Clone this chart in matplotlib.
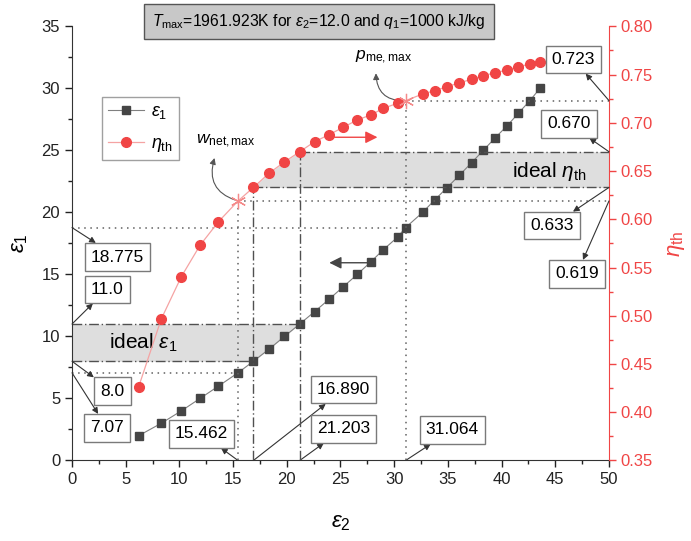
import matplotlib
matplotlib.use('Agg')
import matplotlib.pyplot as plt
from matplotlib.ticker import MultipleLocator

plt.rcParams['font.family'] = ['Liberation Sans', 'DejaVu Sans']
plt.rcParams['mathtext.fontset'] = 'custom'
plt.rcParams['mathtext.rm'] = 'Liberation Sans'
plt.rcParams['mathtext.it'] = 'Liberation Sans:italic'
plt.rcParams['mathtext.bf'] = 'Liberation Sans:bold'

red = '#f04545'
light_red = '#f5a3a3'
dark = '#454545'
shade = '#dedede'

# compression ratio sweep
eps1 = [2, 3, 4, 5, 6, 7.07, 8, 9, 10, 11, 12, 13, 14, 15, 16, 17, 18, 18.775,
        20, 21, 22, 23, 24, 25, 26, 27, 28, 29, 30]
eps2 = [6.21, 8.31, 10.18, 11.92, 13.64, 15.462, 16.890, 18.38, 19.78, 21.203,
        22.59, 23.94, 25.25, 26.56, 27.81, 29.00, 30.31, 31.064,
        32.65, 33.77, 34.93, 36.08, 37.20, 38.30, 39.39, 40.54, 41.57, 42.63, 43.57]
eta = [0.4265, 0.4966, 0.5405, 0.5730, 0.5975, 0.619, 0.633, 0.648, 0.6594, 0.670,
       0.6804, 0.6877, 0.6953, 0.7029, 0.7081, 0.7150, 0.7202, 0.723,
       0.7298, 0.7333, 0.7374, 0.7415, 0.7450, 0.7488, 0.7519, 0.7547, 0.7581, 0.7609, 0.7635]

i_wnet, i_pme = 5, 17      # w_net,max and p_me,max points
i_lo, i_hi = 6, 9          # ideal range limits

fig = plt.figure(figsize=(6.91, 5.41), dpi=100)
ax1 = fig.add_axes([0.1042, 0.1488, 0.7771, 0.8026])
ax2 = ax1.twinx()

ax1.set_xlim(0, 50)
ax1.set_ylim(0, 35)
ax2.set_ylim(0.35, 0.80)

# shaded ideal bands
ax1.fill_betweenx(eps1[i_lo:i_hi + 1], 0, eps2[i_lo:i_hi + 1], color=shade, lw=0, zorder=1)
xb = eps2[i_lo:i_hi + 1] + [50]
yb = eta[i_lo:i_hi + 1] + [eta[i_hi]]
ax1.fill_between(xb, eta[i_lo], yb, color=shade, lw=0, zorder=1, transform=ax2.transData)

dd = dict(color='#505050', lw=1.0, ls=(0, (7, 2, 1, 2)))
dt = dict(color='#606060', lw=1.1, ls=(0, (1, 3)))

# dash-dot guides for ideal ranges
for i in (i_lo, i_hi):
    ax1.hlines(eps1[i], 0, eps2[i], zorder=2, **dd)
    ax2.vlines(eps2[i], 0.35, eta[i], zorder=2, **dd)
    ax2.hlines(eta[i], eps2[i], 50, zorder=2, **dd)
# dotted guides for the maxima
for i in (i_wnet, i_pme):
    ax1.hlines(eps1[i], 0, eps2[i], zorder=2, **dt)
    ax2.vlines(eps2[i], 0.35, eta[i], zorder=2, **dt)
    ax2.hlines(eta[i], eps2[i], 50, zorder=2, **dt)

l1, = ax1.plot(eps2, eps1, color='#808080', lw=0.8, marker='s', ms=6,
               mfc=dark, mec=dark, zorder=4, label=r'$\varepsilon_1$')
circ = [k for k in range(len(eps2)) if k not in (i_wnet, i_pme)]
l2, = ax2.plot(eps2, eta, color=light_red, lw=0.9, marker='o', ms=7,
               mfc=red, mec=red, markevery=circ, zorder=4, label=r'$\eta_{\rm th}$')
ax2.plot([eps2[i_wnet], eps2[i_pme]], [eta[i_wnet], eta[i_pme]], ls='none',
         marker=(6, 2, 0), ms=11, mec='#f58a8a', mew=0.9, zorder=5)

ax1.text(3.45, 9.45, r'ideal $\varepsilon_1$', fontsize=15, va='center', zorder=3)
ax2.text(47.9, 0.650, r'ideal $\eta_{\rm th}$', fontsize=15, va='center', ha='right', zorder=3)

box = dict(boxstyle='square,pad=0.35', fc='white', ec='#7a7a7a', lw=1)
arr = dict(arrowstyle='<|-', color='#333333', lw=0.8, mutation_scale=9, shrinkA=0, shrinkB=0)

# value labels on the left axis
eps1_lab = [(i_pme, '18.775', (4.25, 16.4)), (i_hi, '11.0', (3.27, 13.8)),
            (i_lo, '8.0', (3.77, 5.6)), (i_wnet, '7.07', (3.27, 2.62))]
for i, s, pos in eps1_lab:
    ax1.annotate(s, xy=(0, eps1[i]), xytext=pos, fontsize=12.5, ha='center', va='center',
                 bbox=box, arrowprops=arr, annotation_clip=False, zorder=6)
# value labels on the bottom axis
eps2_lab = [(i_wnet, (12.08, 2.14)), (i_lo, (25.3, 5.7)), (i_hi, (25.26, 2.54)), (i_pme, (35.4, 2.46))]
for i, pos in eps2_lab:
    ax1.annotate(f'{eps2[i]:.3f}', xy=(eps2[i], 0), xytext=pos, fontsize=12.5, ha='center',
                 va='center', bbox=box, arrowprops=arr, annotation_clip=False, zorder=6)
# value labels on the right axis
eta_lab = [(i_pme, (46.7, 0.7656)), (i_hi, (46.3, 0.6988)), (i_lo, (44.7, 0.5933)), (i_wnet, (47.0, 0.5433))]
for i, pos in eta_lab:
    ax2.annotate(f'{eta[i]:.3f}', xy=(50, eta[i]), xytext=pos, fontsize=12.5, ha='center',
                 va='center', bbox=box, arrowprops=arr, annotation_clip=False, zorder=6)

# maxima markers with curved arrows
ax2.text(14.3, 0.681, r'$w_{\rm net,max}$', fontsize=12.5, ha='center', va='center', zorder=6)
ax2.annotate('', xy=(13.27, 0.6635), xytext=(eps2[i_wnet], eta[i_wnet]),
             arrowprops=dict(arrowstyle='-|>', color='#555555', lw=0.8, mutation_scale=9,
                             shrinkA=2, shrinkB=0, connectionstyle='arc3,rad=-0.5'))
ax2.text(29.0, 0.768, r'$p_{\rm me,max}$', fontsize=12.5, ha='center', va='center')
ax2.annotate('', xy=(28.3, 0.7513), xytext=(eps2[i_pme], eta[i_pme]),
             arrowprops=dict(arrowstyle='-|>', color='#555555', lw=0.8, mutation_scale=9,
                             shrinkA=2, shrinkB=0, connectionstyle='arc3,rad=-0.5'))

# direction arrows
ax2.annotate('', xy=(28.7, 0.685), xytext=(24.2, 0.685),
             arrowprops=dict(arrowstyle='-|>', color=red, lw=1, mutation_scale=18))
ax1.annotate('', xy=(23.7, 15.94), xytext=(27.8, 15.94),
             arrowprops=dict(arrowstyle='-|>', color=dark, lw=1, mutation_scale=18))

# axes styling
ax1.xaxis.set_major_locator(MultipleLocator(5))
ax1.xaxis.set_minor_locator(MultipleLocator(2.5))
ax1.yaxis.set_major_locator(MultipleLocator(5))
ax1.yaxis.set_minor_locator(MultipleLocator(2.5))
ax2.yaxis.set_major_locator(MultipleLocator(0.05))
ax2.yaxis.set_minor_locator(MultipleLocator(0.025))
ax2.yaxis.set_major_formatter(lambda v, p: f'{v:.2f}')

ax1.tick_params(which='major', direction='out', length=5, width=1, labelsize=12, colors='#222222')
ax1.tick_params(which='minor', direction='out', length=3, width=1, colors='#222222')
ax2.tick_params(which='major', direction='out', length=5, width=1, labelsize=12, colors=red, pad=3)
ax2.tick_params(which='minor', direction='out', length=3, width=1, colors=red)

for s in ('top', 'right'):
    ax1.spines[s].set_visible(False)
for s in ('top', 'left', 'bottom'):
    ax2.spines[s].set_visible(False)
ax2.spines['right'].set_color(red)
ax1.spines['left'].set_color('#333333')
ax1.spines['bottom'].set_color('#333333')

ax1.set_xlabel(r'$\varepsilon_2$', fontsize=16, labelpad=18)
ax1.set_ylabel(r'$\varepsilon_1$', fontsize=16, labelpad=8)
ax2.set_ylabel(r'$\eta_{\rm th}$', fontsize=16, color=red, labelpad=10)

leg = ax1.legend(handles=[l1, l2], loc='upper left', bbox_to_anchor=(0.0554, 0.837),
                 borderaxespad=0, fontsize=13, frameon=True, fancybox=False,
                 edgecolor='#888888', handlelength=2.0, handletextpad=0.4,
                 borderpad=0.35, labelspacing=0.75)
leg.get_frame().set_linewidth(1)
leg.set_zorder(7)

fig.text(0.4616, 0.960, r'$T_{\rm max}$=1961.923K for $\varepsilon_2$=12.0 and $q_1$=1000 kJ/kg',
         fontsize=11.3, ha='center', va='center',
         bbox=dict(boxstyle='square,pad=0.5', fc='#c8c8c8', ec='#555555', lw=1))

fig.savefig('out.png', dpi=100)
